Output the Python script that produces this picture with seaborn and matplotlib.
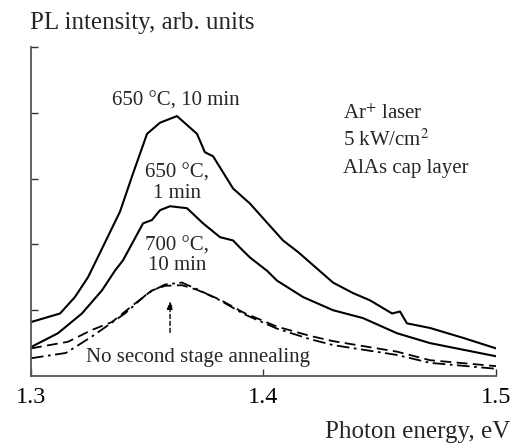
import matplotlib
matplotlib.use("Agg")
import matplotlib.pyplot as plt
import seaborn as sns
import pandas as pd

# ---- data ----
x_650_10 = [1.300, 1.3125, 1.3189, 1.3245, 1.3284, 1.3383, 1.3439, 1.3499, 1.3555, 1.3628,
            1.3714, 1.3748, 1.3783, 1.3869, 1.3942, 1.4028, 1.4084, 1.4150, 1.4299, 1.4385,
            1.4458, 1.4553, 1.4587, 1.4617, 1.4716, 1.4858, 1.500]
y_650_10 = [0.82, 0.95, 1.20, 1.50, 1.78, 2.50, 3.08, 3.68, 3.85, 3.95,
            3.68, 3.40, 3.34, 2.85, 2.62, 2.28, 2.06, 1.88, 1.42, 1.26,
            1.15, 0.95, 0.98, 0.80, 0.73, 0.58, 0.42]

x_650_1 = [1.300, 1.3116, 1.3219, 1.3305, 1.3361, 1.3396, 1.3482, 1.3520, 1.3555, 1.3598,
           1.3671, 1.3740, 1.3813, 1.3869, 1.3899, 1.3942, 1.4015, 1.4058, 1.4170, 1.4299,
           1.4428, 1.4574, 1.4716, 1.500]
y_650_1 = [0.44, 0.65, 0.95, 1.30, 1.60, 1.76, 2.32, 2.37, 2.52, 2.58,
           2.55, 2.32, 2.11, 2.06, 1.95, 1.80, 1.60, 1.45, 1.20, 1.00,
           0.88, 0.65, 0.50, 0.30]

x_700_10 = [1.300, 1.3159, 1.3262, 1.3348, 1.3447, 1.3520, 1.3576, 1.3649, 1.3714, 1.3813,
            1.3916, 1.4058, 1.4200, 1.4299, 1.4574, 1.4716, 1.500]
y_700_10 = [0.42, 0.52, 0.70, 0.82, 1.10, 1.30, 1.37, 1.38, 1.31, 1.16,
            0.96, 0.75, 0.61, 0.53, 0.37, 0.24, 0.15]

x_none = [1.300, 1.3150, 1.3262, 1.3404, 1.3503, 1.3576, 1.3649, 1.3714, 1.3813,
          1.3916, 1.4058, 1.4200, 1.4299, 1.4574, 1.4716, 1.500]
y_none = [0.27, 0.35, 0.60, 0.95, 1.26, 1.39, 1.42, 1.32, 1.15,
          0.94, 0.72, 0.56, 0.47, 0.32, 0.20, 0.11]

x_ticks = [1.3, 1.4, 1.5]
x_ticklabels = ["1.3", "1.4", "1.5"]
y_ticks = [1, 2, 3, 4, 5]

sns.set_style("ticks")
plt.rcParams["font.family"] = ["Liberation Serif", "DejaVu Serif"]
plt.rcParams["mathtext.fontset"] = "stix"

fig = plt.figure(figsize=(5.14, 4.48), dpi=100)
ax = fig.add_axes([31/514, 1-376/448, (496-31)/514, (376-47)/448])

lw = 1.5
df1 = pd.DataFrame({"E": x_650_10, "I": y_650_10})
df2 = pd.DataFrame({"E": x_650_1, "I": y_650_1})
df3 = pd.DataFrame({"E": x_700_10, "I": y_700_10})
df4 = pd.DataFrame({"E": x_none, "I": y_none})
sns.lineplot(data=df1, x="E", y="I", ax=ax, color="black", lw=lw, sort=False)
sns.lineplot(data=df2, x="E", y="I", ax=ax, color="black", lw=lw, sort=False)
sns.lineplot(data=df3, x="E", y="I", ax=ax, color="black", lw=1.3, sort=False,
             linestyle=(0, (6, 3)))
sns.lineplot(data=df4, x="E", y="I", ax=ax, color="black", lw=1.3, sort=False,
             linestyle=(0, (7, 2.5, 1.5, 2.5)))

ax.set_xlim(1.3, 1.5)
ax.set_ylim(0, 5)
ax.set_xticks(x_ticks)
ax.set_xticklabels(x_ticklabels)
ax.set_yticks(y_ticks)
ax.set_yticklabels([])
ax.set_xlabel("")
ax.set_ylabel("")
ax.tick_params(direction="in", length=5, width=1, colors="#333333", labelsize=17.5,
               labelcolor="black", pad=8)
for s in ["top", "right"]:
    ax.spines[s].set_visible(False)
for s in ["left", "bottom"]:
    ax.spines[s].set_linewidth(1.3)
    ax.spines[s].set_color("#555555")

fs = 15
kw = dict(va="baseline", fontsize=fs)
ax.text(1.3624, 4.11, "650 °C, 10 min", ha="center", **kw)
ax.text(1.3628, 3.02, "650 °C,", ha="center", **kw)
ax.text(1.3628, 2.70, "1 min", ha="center", **kw)
ax.text(1.3628, 1.91, "700 °C,", ha="center", **kw)
ax.text(1.3628, 1.61, "10 min", ha="center", **kw)
ax.text(1.4342, 3.91, r"Ar$^{+}$ laser", ha="left", **kw)
ax.text(1.4342, 3.50, r"5 kW/cm$^{2}$", ha="left", **kw)
ax.text(1.4342, 3.09, "AlAs cap layer", ha="left", **kw)
ax.text(1.3718, 0.21, "No second stage annealing", ha="center", **kw)
ax.annotate("", xy=(1.3598, 1.18), xytext=(1.3598, 0.62),
            arrowprops=dict(arrowstyle="-|>,head_width=0.18,head_length=0.45",
                            color="black", lw=1.0, linestyle=(0, (3, 2))))

fig.text(30/514, 1-29/448, "PL intensity, arb. units", ha="left", va="baseline", fontsize=18)
fig.text(510/514, 1-438/448, "Photon energy, eV", ha="right", va="baseline", fontsize=18)

fig.savefig("out.png", dpi=100)
